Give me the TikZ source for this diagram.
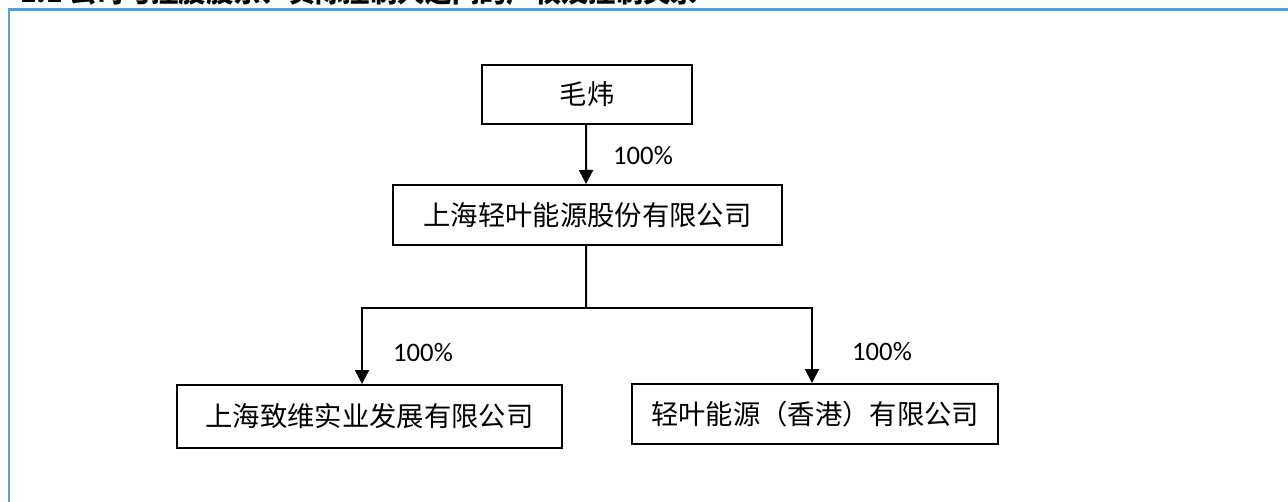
\documentclass[tikz,border=0pt]{standalone}
\usepackage{fontspec}
\setmainfont{Carlito}
\newfontfamily\cjk{Noto Sans CJK SC}
\usetikzlibrary{arrows.meta}
\definecolor{frameblue}{RGB}{91, 155, 213}

\begin{document}
\begin{tikzpicture}
  [
    x=0.75pt, y=-0.75pt,
    frame/.style={frameblue, line width=1.6pt},
    entity/.style={draw, line width=1.5pt, inner sep=0pt, font=\cjk\fontsize{20.5}{24}\selectfont},
    link/.style={line width=1.5pt},
    own/.style={link, -{Triangle[width=10.5pt, length=10.5pt]}},
    share/.style={font=\fontsize{20}{24}\selectfont, inner sep=0pt}
  ]
  \useasboundingbox (0, 0) rectangle (1288, 502);
  \clip (0, 0) rectangle (1288, 502);

  \node[anchor=base west, inner sep=0pt, font=\cjk\bfseries\fontsize{20.5}{24}\selectfont]
    (title) at (20, 2.5) {1.1 公司与控股股东、实际控制人之间的产权及控制关系};
  \draw[frame] (9, 520) -- (9, 9.5) -- (1300, 9.5);

  \node[entity, minimum width=157.5pt, minimum height=44.25pt] (mao) at (587, 94.5) {毛炜};
  \node[entity, minimum width=291.75pt, minimum height=45pt] (qingye) at (587.5, 215) {上海轻叶能源股份有限公司};
  \node[entity, minimum width=288.75pt, minimum height=47.25pt] (zhiwei) at (369.5, 416.5) {上海致维实业发展有限公司};
  \node[entity, minimum width=274.5pt, minimum height=45pt] (hk) at (815, 414) {轻叶能源（香港）有限公司};

  \coordinate (split) at (587, 308);

  \draw[own] ([xshift=-0.75pt]mao.south) -- ([xshift=-1.1pt]qingye.north);
  \draw[link] ([xshift=-1.1pt]qingye.south) -- ([xshift=-0.75pt]split);
  \draw[own] ([xshift=-0.75pt]split) -| ([xshift=-5.6pt]zhiwei.north);
  \draw[own] ([xshift=-0.75pt]split) -| ([xshift=-2.25pt]hk.north);

  \node[share] (p1) at (643, 156) {100\%};
  \node[share] (p2) at (423, 353) {100\%};
  \node[share] (p3) at (882, 352) {100\%};

\end{tikzpicture}
\end{document}
